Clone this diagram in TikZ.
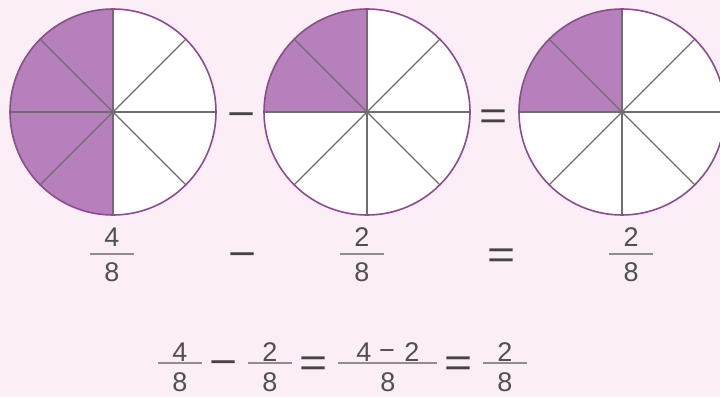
\documentclass[tikz,border=0pt]{standalone}
\usepackage{fontspec}
\usepackage{graphicx}
\setmainfont{Liberation Sans}
\usetikzlibrary{calc}
\definecolor{bg}{HTML}{FCEEF7}
\definecolor{pieshade}{HTML}{B680BC}
\definecolor{rim}{HTML}{8C4C8E}
\definecolor{spoke}{HTML}{6E6E6E}
\definecolor{ink}{HTML}{505050}
\definecolor{signink}{HTML}{444444}
\definecolor{barc}{HTML}{8E8E8E}
\tikzset{
  digit/.style={text=ink, inner sep=0pt, font=\fontsize{27}{27}\selectfont},
  sign/.style={text=signink, inner sep=0pt, font=\fontsize{40}{40}\selectfont},
  fracbar/.style={draw=barc, line width=1.6pt},
  rimline/.style={draw=rim, line width=1.6pt},
  spokeline/.style={draw=spoke, line width=1.2pt},
}
\newcommand{\wide}[1]{\scalebox{1.2}[1]{#1}}
\newcommand{\mypie}[3]{% name, center, shaded end angle
  \coordinate (#1) at #2;
  \fill[white] (#1) circle (103);
  \fill[pieshade] (#1) -- ($(#1)+(90:103)$) arc[start angle=90, end angle=#3, radius=103] -- cycle;
  \foreach \a in {0,45,...,315} \draw[spokeline] (#1) -- ($(#1)+(\a:103)$);
  \draw[rimline] (#1) circle (103);
}
% fraction: name, x, bar y, numerator, denominator, num offset, den offset
\newcommand{\myfrac}[7]{%
  \node[digit] (#1n) at (#2,#3+#6) {#4};
  \node[digit] (#1d) at (#2,#3-#7) {#5};
  \coordinate (#1l) at (#2-22,#3);
  \coordinate (#1r) at (#2+22,#3);
  \draw[fracbar] (#1l) -- (#1r);
}
\begin{document}
\begin{tikzpicture}[x=1pt,y=1pt]
\fill[bg] (0,0) rectangle (720,397);
\useasboundingbox (0,0) rectangle (720,397);
\clip (0,0) rectangle (720,397);
\mypie{c1}{(113,285)}{270}
\mypie{c2}{(367,285)}{180}
\mypie{c3}{(622,285)}{180}
\node[sign] (s1) at (242,276.5) {\wide{−}};
\node[sign] (s2) at (494,277.5) {\wide{=}};
% top row
\myfrac{a}{112}{143}{4}{8}{17}{18}
\node[sign] (s3) at (243,136.5) {\wide{−}};
\myfrac{b}{362}{143}{2}{8}{17}{18}
\node[sign] (s4) at (502,138) {\wide{=}};
\myfrac{c}{631}{143}{2}{8}{17}{18}
% bottom row
\myfrac{p}{180}{34}{4}{8}{11}{19.5}
\node[sign] (s5) at (224,28.5) {\wide{−}};
\myfrac{q}{270}{34}{2}{8}{11}{19.5}
\node[sign] (s6) at (314,30) {\wide{=}};
\node[digit] (rn4) at (364,45) {4};
\node[digit] (rnm) at (387,42) {−};
\node[digit] (rn2) at (412,45) {2};
\node[digit] (rd) at (388,14.5) {8};
\coordinate (rl) at (338,34);
\coordinate (rr) at (437,34);
\draw[fracbar] (rl) -- (rr);
\node[sign] (s7) at (459,30) {\wide{=}};
\myfrac{t}{505}{34}{2}{8}{11}{19.5}
\end{tikzpicture}
\end{document}
